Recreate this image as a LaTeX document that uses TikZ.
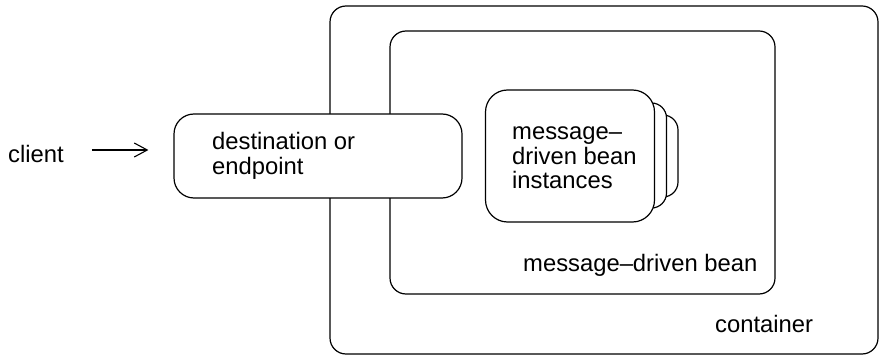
\documentclass[tikz,border=0pt]{standalone}
\usepackage{fontspec}
\setmainfont{Liberation Sans}
\usetikzlibrary{arrows.meta}
\newcommand{\lines}[1]{\begin{tabular}[t]{@{}l@{}}#1\end{tabular}}
\begin{document}
\begin{tikzpicture}[x=1pt,y=-1pt,
  box/.style={draw, line width=1.2pt, fill=white, inner sep=0pt},
  lbl/.style={inner sep=0pt, anchor=base west, font=\fontsize{23.8}{23}\selectfont},
  flow/.style={line width=1.1pt, -{Straight Barb[length=13pt,width=14pt,line width=1.1pt]}}]
\useasboundingbox (0,0) rectangle (880,355);
% container and message-driven bean frames
\node (container) [box, rounded corners=16pt, minimum width=548pt, minimum height=348pt] at (604,180) {};
\node (mdb) [box, rounded corners=16pt, minimum width=385pt, minimum height=263pt] at (582.5,162.5) {};
% stacked bean instances, back to front
\node (inst2) [box, rounded corners=15pt, minimum width=168pt, minimum height=82pt] at (594,156) {};
\node (inst1) [box, rounded corners=15pt, minimum width=167pt, minimum height=105pt] at (583,155.5) {};
\node (inst) [box, rounded corners=22pt, minimum width=169pt, minimum height=132pt] at (570,156) {};
% destination sits across the frame edges
\node (dest) [box, rounded corners=20pt, minimum width=288pt, minimum height=84pt] at (318,156) {};
% labels
\node (client) [lbl] at (8,163) {client};
\node (desttext) [lbl] at (212,150) {\lines{destination or\\endpoint}};
\node (insttext) [lbl] at (512,140) {\lines{message–\\driven bean\\instances}};
\node (mdbtext) [lbl] at (523,271) {message–driven bean};
\node (conttext) [lbl] at (715,332) {container};
% client to destination
\draw[flow] ([xshift=28pt,yshift=13pt]client.base east) -- ([xshift=-25pt]dest.west |- 0,150);
\end{tikzpicture}
\end{document}
